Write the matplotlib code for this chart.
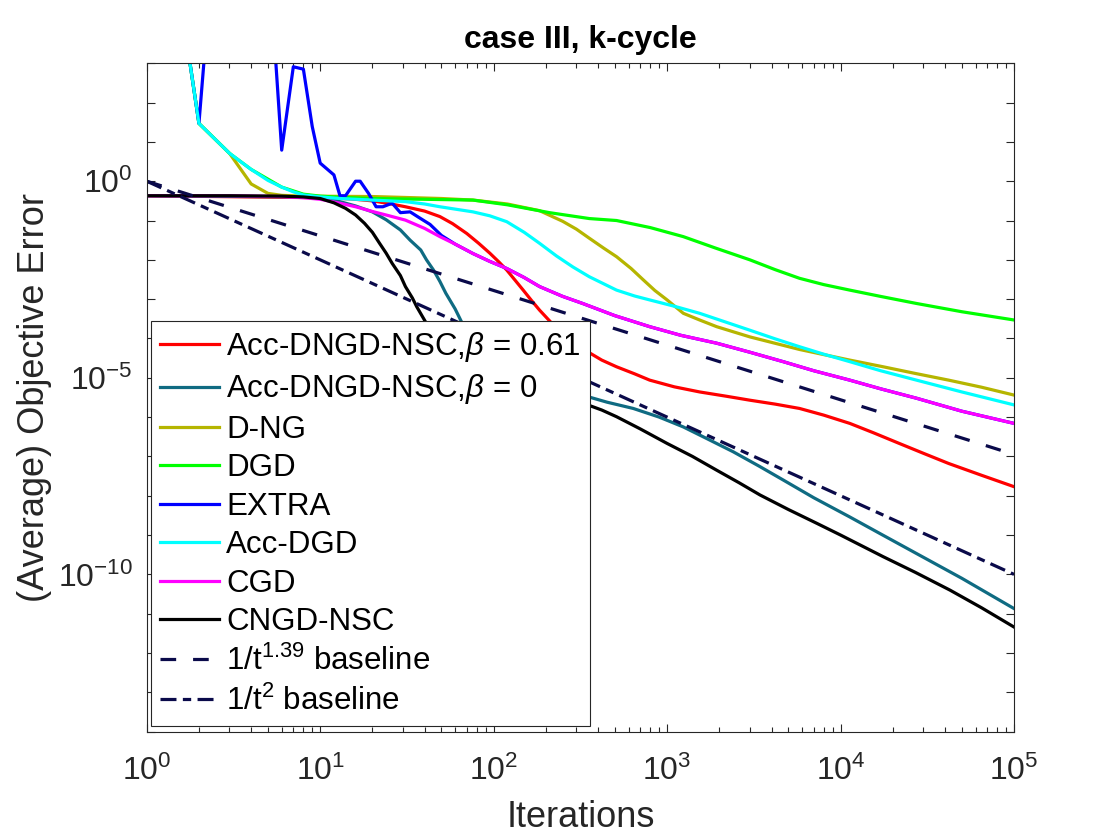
import matplotlib
matplotlib.use("Agg")
import matplotlib.pyplot as plt
from matplotlib.ticker import FixedLocator, NullLocator, LogLocator, NullFormatter

plt.rcParams['font.family'] = ['Liberation Sans', 'DejaVu Sans']
plt.rcParams['mathtext.fontset'] = 'custom'
plt.rcParams['mathtext.rm'] = 'Liberation Sans'
plt.rcParams['mathtext.it'] = 'Liberation Sans:italic'
plt.rcParams['mathtext.bf'] = 'Liberation Sans:bold'
plt.rcParams['mathtext.default'] = 'regular'

# ---- data: iterations and log10(objective error) ----
t_red = [1, 10, 15, 20, 25, 31, 40, 49, 58, 70, 82, 95, 107, 119, 133, 148, 165, 184, 215, 260, 349, 420,
         511, 650, 794, 1100, 1540, 2200, 3000, 4200, 5800, 8000, 11300, 15500, 21800, 30000, 42000, 65000, 1e5]
lg_red = [-0.37, -0.42, -0.45, -0.50, -0.57, -0.65, -0.76, -0.90, -1.08, -1.33, -1.58, -1.83, -2.05, -2.26,
          -2.52, -2.77, -3.03, -3.28, -3.60, -3.95, -4.34, -4.55, -4.72, -4.90, -5.06, -5.23, -5.36, -5.47,
          -5.57, -5.67, -5.78, -5.95, -6.16, -6.40, -6.67, -6.92, -7.18, -7.48, -7.77]

t_teal = [1, 8, 10, 13, 16, 20, 24, 29, 33, 38, 41, 45, 49, 53, 60, 66, 80, 100, 150, 250, 349, 450, 638,
          900, 1240, 1700, 2400, 3400, 4670, 7000, 11300, 17000, 27400, 50000, 1e5]
lg_teal = [-0.37, -0.40, -0.42, -0.52, -0.63, -0.78, -0.98, -1.24, -1.50, -1.75, -2.00, -2.26, -2.55, -2.85,
           -3.25, -3.62, -4.20, -4.65, -5.10, -5.35, -5.48, -5.62, -5.78, -6.00, -6.25, -6.55, -6.88, -7.25,
           -7.60, -8.05, -8.54, -8.97, -9.47, -10.10, -10.87]

t_dng = [1, 2, 3, 4, 5, 6, 8, 20, 50, 76, 120, 184, 250, 300, 356, 430, 511, 620, 729, 850, 1000, 1240,
         1540, 1930, 3000, 5800, 11300, 17600, 27000, 42000, 65000, 1e5]
lg_dng = [10.4, 1.47, 0.71, -0.07, -0.31, -0.36, -0.38, -0.39, -0.44, -0.48, -0.58, -0.75, -1.02, -1.22,
          -1.45, -1.70, -1.92, -2.22, -2.51, -2.78, -3.02, -3.36, -3.53, -3.70, -3.96, -4.28, -4.55, -4.72,
          -4.89, -5.06, -5.24, -5.44]

t_dgd = [1, 2, 3, 4, 6, 8, 10, 13, 20, 40, 76, 120, 210, 356, 511, 800, 1240, 1900, 3000, 4200, 5800,
         8000, 11300, 17000, 27400, 50000, 1e5]
lg_dgd = [10.4, 1.47, 0.71, 0.30, -0.15, -0.33, -0.38, -0.41, -0.44, -0.46, -0.48, -0.60, -0.80, -0.95,
          -1.00, -1.18, -1.41, -1.70, -2.00, -2.25, -2.47, -2.63, -2.77, -2.93, -3.11, -3.32, -3.53]

t_extra = [1, 2, 3, 4, 5, 6, 7, 8, 9, 10, 12, 13, 14, 16, 17, 19, 21, 23, 26, 29, 33, 37, 43, 50, 60, 76,
           95, 119, 150, 184, 250, 326, 500, 794, 1200, 1930, 3000, 4670, 7000, 11300, 17000, 27400, 50000, 1e5]
lg_extra = [10.4, 1.47, 11.0, 9.0, 6.0, 0.79, 2.91, 2.85, 1.39, 0.46, 0.16, -0.37, -0.37, 0.0, 0.0, -0.31,
            -0.65, -0.65, -0.56, -0.80, -0.78, -0.92, -1.10, -1.38, -1.60, -1.84, -2.04, -2.22, -2.45, -2.68,
            -2.93, -3.11, -3.42, -3.70, -3.92, -4.12, -4.35, -4.59, -4.82, -5.06, -5.28, -5.52, -5.85, -6.16]

t_accdgd = [1, 2, 3, 4, 5, 6, 7, 8, 10, 13, 20, 31, 40, 49, 60, 76, 95, 119, 150, 184, 230, 286, 356, 511,
            650, 794, 1100, 1540, 2100, 3000, 4200, 5800, 8000, 11300, 17000, 27400, 50000, 1e5]
lg_accdgd = [10.4, 1.47, 0.71, 0.30, 0.02, -0.15, -0.27, -0.35, -0.40, -0.44, -0.48, -0.52, -0.58, -0.65,
             -0.71, -0.78, -0.88, -1.03, -1.30, -1.58, -1.90, -2.18, -2.43, -2.77, -2.92, -3.02, -3.18,
             -3.36, -3.56, -3.79, -4.01, -4.21, -4.40, -4.59, -4.82, -5.06, -5.36, -5.69]

t_cgd = [1, 3, 6, 8, 10, 13, 16, 20, 25, 31, 40, 49, 60, 76, 95, 119, 150, 184, 250, 326, 500, 794, 1200,
         1930, 3000, 4670, 7000, 11300, 17000, 27400, 50000, 1e5]
lg_cgd = [-0.37, -0.37, -0.39, -0.42, -0.46, -0.56, -0.65, -0.77, -0.88, -0.99, -1.20, -1.41, -1.60, -1.84,
          -2.04, -2.22, -2.45, -2.68, -2.93, -3.11, -3.42, -3.70, -3.92, -4.12, -4.35, -4.59, -4.82, -5.06,
          -5.28, -5.52, -5.85, -6.16]

t_cngd = [1, 3, 6, 8, 10, 12, 14, 16, 18, 20, 22, 24, 26, 29, 31, 34, 36, 41, 50, 60, 75, 100, 150, 250,
          349, 420, 511, 700, 1000, 1400, 1930, 2600, 3430, 5000, 7280, 10000, 17600, 27000, 42700, 65000, 1e5]
lg_cngd = [-0.37, -0.37, -0.38, -0.40, -0.44, -0.55, -0.69, -0.86, -1.07, -1.30, -1.58, -1.83, -2.09, -2.40,
           -2.68, -2.97, -3.19, -3.62, -4.15, -4.55, -4.90, -5.15, -5.40, -5.57, -5.69, -5.82, -5.99, -6.30,
           -6.67, -7.00, -7.35, -7.67, -7.98, -8.35, -8.70, -9.00, -9.55, -9.95, -10.40, -10.85, -11.34]

t_base = [1, 1e5]
lg_base139 = [0.0, -6.95]
lg_base2 = [0.0, -10.0]

labels = ["Acc-DNGD-NSC,$\\mathit{\\beta}$ = 0.61", "Acc-DNGD-NSC,$\\mathit{\\beta}$ = 0", "D-NG", "DGD",
          "EXTRA", "Acc-DGD", "CGD", "CNGD-NSC", "$1/t^{1.39}$ baseline", "$1/t^{2}$ baseline"]


def pw(lg):
    return [10.0 ** v for v in lg]


navy = (0.04, 0.04, 0.29)
lw = 2.3

fig = plt.figure(figsize=(11.2, 8.4), dpi=100)
ax = fig.add_axes([0.131, 0.129, 0.7744, 0.7957])

ax.plot(t_red, pw(lg_red), color=(1, 0, 0), lw=lw, label=labels[0])
ax.plot(t_teal, pw(lg_teal), color=(0.06, 0.42, 0.51), lw=lw, label=labels[1])
ax.plot(t_dng, pw(lg_dng), color=(0.71, 0.71, 0.0), lw=lw, label=labels[2])
ax.plot(t_dgd, pw(lg_dgd), color=(0, 1, 0), lw=lw, label=labels[3])
ax.plot(t_extra, pw(lg_extra), color=(0, 0, 1), lw=lw, label=labels[4])
ax.plot(t_accdgd, pw(lg_accdgd), color=(0, 1, 1), lw=lw, label=labels[5])
ax.plot(t_cgd, pw(lg_cgd), color=(1, 0, 1), lw=lw, label=labels[6])
ax.plot(t_cngd, pw(lg_cngd), color=(0, 0, 0), lw=lw, label=labels[7])
ax.plot(t_base, pw(lg_base139), color=navy, lw=lw, ls=(0, (4.9, 5.3)), label=labels[8])
ax.plot(t_base, pw(lg_base2), color=navy, lw=lw, ls=(0, (5.0, 2.0, 2.6, 2.0)), label=labels[9])

ax.set_xscale('log')
ax.set_yscale('log')
ax.set_xlim(1, 1e5)
ax.set_ylim(1e-14, 1e3)

# ticks (MATLAB style: inside, on all sides)
ax.xaxis.set_major_locator(FixedLocator([10.0 ** k for k in range(0, 6)]))
ax.set_xticklabels(["$10^{%d}$" % k for k in range(0, 6)])
ax.xaxis.set_minor_locator(LogLocator(base=10, subs=range(2, 10), numticks=20))
ax.xaxis.set_minor_formatter(NullFormatter())
yt = list(range(-14, 4))
ax.yaxis.set_major_locator(FixedLocator([10.0 ** k for k in yt]))
ax.set_yticklabels(["$10^{%d}$" % k if k in (0, -5, -10) else "" for k in yt])
ax.yaxis.set_minor_locator(NullLocator())
ax.tick_params(which='both', direction='in', top=True, right=True, labelsize=23, colors='#262626',
               width=0.8)
ax.tick_params(which='major', length=5.5)
ax.tick_params(which='minor', length=3.5)
ax.tick_params(axis='x', pad=17)
ax.tick_params(axis='y', pad=10)
for s in ax.spines.values():
    s.set_linewidth(0.8)
    s.set_color('#262626')

ax.set_xlabel("Iterations", fontsize=26, color='#262626', labelpad=10)
ax.set_ylabel("(Average) Objective Error", fontsize=26, color='#262626', labelpad=4)
ax.set_title("case III, k-cycle", fontsize=23, fontweight='bold', pad=11)

leg = ax.legend(loc='lower left', bbox_to_anchor=(0.0046, 0.0085), borderaxespad=0, fontsize=22.5,
                fancybox=False, framealpha=1, edgecolor='#262626', handlelength=1.9,
                handletextpad=0.22, labelspacing=0.27, borderpad=0.3)
leg.get_frame().set_linewidth(0.8)

fig.savefig("out.png", dpi=100)
